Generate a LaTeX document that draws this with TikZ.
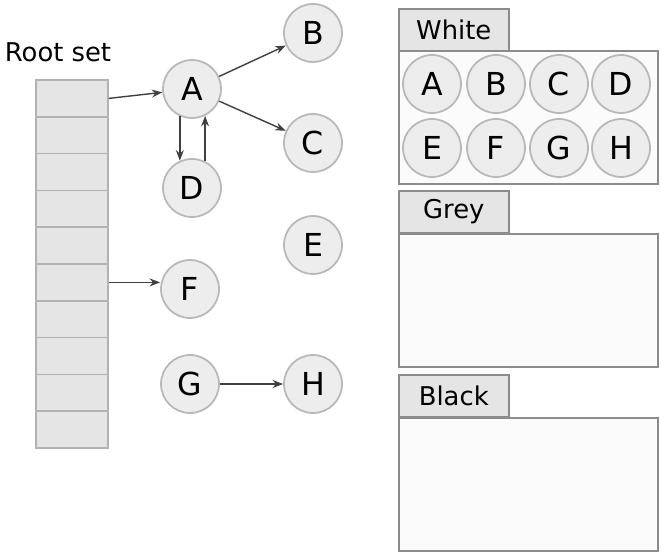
\documentclass[tikz,border=0pt]{standalone}
\usepackage{fontspec}
\setmainfont{DejaVu Sans}
\usetikzlibrary{arrows.meta, positioning, calc}
\definecolor{CellFill}{gray}{0.9}
\definecolor{ObjFill}{gray}{0.93}
\definecolor{ObjLine}{gray}{0.72}
\definecolor{PanelLine}{gray}{0.55}

\begin{document}
\begin{tikzpicture}[x=0.02cm, y=-0.02cm, >=Stealth,
        obj/.style={circle, draw=ObjLine, fill=ObjFill, line width=1pt, minimum size=1.16cm, inner sep=0pt, font=\fontsize{18}{18}\selectfont},
        cell/.style={rectangle, draw=gray!60, fill=CellFill, line width=0.9pt, minimum width=1.44cm, minimum height=0.736cm, inner sep=0pt},
        tab/.style={rectangle, draw=PanelLine, fill=CellFill, line width=0.9pt, anchor=north west, minimum width=2.2cm, minimum height=0.84cm, inner sep=0pt, font=\fontsize{14.7}{15}\selectfont},
        panel/.style={rectangle, draw=PanelLine, fill=gray!3, line width=0.9pt, anchor=north west, minimum width=5.18cm, minimum height=2.66cm, inner sep=0pt},
        ref/.style={->, line width=0.8pt, draw=black!75, >={Stealth[length=6pt, width=4.5pt]}}]
        \useasboundingbox (0,0) rectangle (661,553);
        % Root set
        \node (rootlabel) at (58,52) {\fontsize{14.7}{15}\selectfont Root set};
        \foreach \i in {1,...,10}
            \node [cell] (cell\i) at (72,{80+36.8*(\i-0.5)}) {};
        % Heap objects
        \node [obj] (A) at (192,89) {A};
        \node [obj] (B) at (313,33) {B};
        \node [obj] (C) at (313,143) {C};
        \node [obj] (D) at (192,188) {D};
        \node [obj] (E) at (313,245) {E};
        \node [obj] (F) at (190,289) {F};
        \node [obj] (G) at (190,384) {G};
        \node [obj] (H) at (313,384) {H};
        % References
        \draw [ref] (cell1.east) -- (A);
        \draw [ref] (cell6.east) -- (cell6.east -| F.west);
        \draw [ref] (A) -- (B);
        \draw [ref] (A) -- (C);
        \draw [ref] (A.246) -- (D.114);
        \draw [ref] (D.64) -- (A.296);
        \draw [ref] (G) -- (H);
        % Colour sets
        \node [tab] (whitetab) at (398,8) {White};
        \node [panel] (whitebox) at (398,50) {};
        \node [tab] (greytab) at (398,190) {Grey};
        \node [panel] (greybox) at (398,233) {};
        \node [tab] (blacktab) at (398,374) {Black};
        \node [panel] (blackbox) at (398,417) {};
        \foreach \l/\px/\py in {A/432/84, B/496/84, C/559/84, D/621/84, E/432/148, F/496/148, G/559/148, H/621/148}
            \node [obj] (w\l) at (\px,\py) {\l};
    \end{tikzpicture}
\end{document}
